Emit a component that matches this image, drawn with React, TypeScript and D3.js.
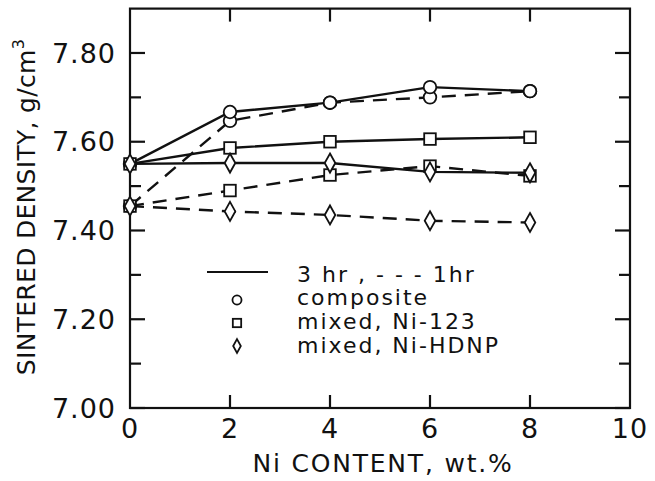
import React from "react";
import * as d3 from "d3";

const xs = [0, 2, 4, 6, 8];
const composite3 = [7.55, 7.667, 7.688, 7.723, 7.714];
const composite1 = [7.455, 7.647, 7.688, 7.70, 7.714];
const ni123_3 = [7.55, 7.586, 7.60, 7.606, 7.61];
const ni123_1 = [7.455, 7.49, 7.525, 7.545, 7.523];
const hdnp3 = [7.55, 7.552, 7.552, 7.532, 7.53];
const hdnp1 = [7.455, 7.443, 7.435, 7.422, 7.418];

const xTicks = [0, 2, 4, 6, 8, 10];
const yMajor = [7.0, 7.2, 7.4, 7.6, 7.8];
const yMinor = [7.1, 7.3, 7.5, 7.7];

const FONT = "'DejaVu Sans', sans-serif";

type Shape = "circle" | "square" | "diamond";

function Marker({ shape, x, y, s = 1 }: { shape: Shape; x: number; y: number; s?: number }) {
  const common = { fill: "white", stroke: "#111", strokeWidth: 1.8 };
  if (shape === "circle") return <circle cx={x} cy={y} r={6.3 * s} {...common} />;
  if (shape === "square") return <rect x={x - 5.8 * s} y={y - 5.8 * s} width={11.6 * s} height={11.6 * s} {...common} />;
  return (
    <path
      d={`M${x},${y - 9.5 * s}L${x + 5.3 * s},${y}L${x},${y + 9.5 * s}L${x - 5.3 * s},${y}Z`}
      {...common}
    />
  );
}

export default function App() {
  const W = 655, H = 481;
  const x = d3.scaleLinear().domain([0, 10]).range([130, 630]);
  const y = d3.scaleLinear().domain([7.0, 7.9]).range([408, 8.6]);
  const line = d3.line<number>().x((_, i) => x(xs[i])).y((d) => y(d));

  const series: { vals: number[]; dashed: boolean; shape: Shape }[] = [
    { vals: composite1, dashed: true, shape: "circle" },
    { vals: ni123_1, dashed: true, shape: "square" },
    { vals: hdnp1, dashed: true, shape: "diamond" },
    { vals: composite3, dashed: false, shape: "circle" },
    { vals: ni123_3, dashed: false, shape: "square" },
    { vals: hdnp3, dashed: false, shape: "diamond" },
  ];

  const [x0, x1] = x.range();
  const [y0, y1] = y.range();

  return (
    <svg width={W} height={H} style={{ position: "absolute", left: 0, top: 0, background: "white" }}>
      <g stroke="#111" strokeWidth={2.2} fill="none">
        <rect x={x0} y={y1} width={x1 - x0} height={y0 - y1} />
        {yMajor.map((v) => (
          <g key={"ma" + v}>
            <line x1={x0} x2={x0 + 15} y1={y(v)} y2={y(v)} />
            <line x1={x1} x2={x1 - 15} y1={y(v)} y2={y(v)} />
          </g>
        ))}
        {yMinor.map((v) => (
          <g key={"mi" + v}>
            <line x1={x0} x2={x0 + 11} y1={y(v)} y2={y(v)} />
            <line x1={x1} x2={x1 - 11} y1={y(v)} y2={y(v)} />
          </g>
        ))}
        {[2, 4, 6, 8].map((v) => (
          <g key={"xt" + v}>
            <line x1={x(v)} x2={x(v)} y1={y0} y2={y0 - 13} />
            <line x1={x(v)} x2={x(v)} y1={y1} y2={y1 + 13} />
          </g>
        ))}
      </g>
      <g fill="#111" fontFamily={FONT} fontSize={27} letterSpacing={1}>
        {yMajor.map((v) => (
          <text key={"yl" + v} x={x0 - 14} y={y(v)} dy="0.36em" textAnchor="end">
            {v.toFixed(2)}
          </text>
        ))}
        {xTicks.map((v) => (
          <text key={"xl" + v} x={x(v)} y={y0 + 30} textAnchor="middle">
            {v}
          </text>
        ))}
      </g>
      <g fill="#111" fontFamily={FONT}>
        <text x={383} y={472} textAnchor="middle" fontSize={25} letterSpacing={1.8}>
          Ni CONTENT, wt.%
        </text>
        <text transform={`translate(35,207) rotate(-90)`} textAnchor="middle" fontSize={25} letterSpacing={0.3}>
          SINTERED DENSITY, g/cm<tspan dy={-11} fontSize={16}>3</tspan>
        </text>
      </g>
      {series.map((s, i) => (
        <path
          key={"l" + i}
          d={line(s.vals) || ""}
          fill="none"
          stroke="#111"
          strokeWidth={2.4}
          strokeDasharray={s.dashed ? "14,9" : undefined}
        />
      ))}
      {series.map((s, i) =>
        s.vals.map((v, j) => <Marker key={`m${i}-${j}`} shape={s.shape} x={x(xs[j])} y={y(v)} />)
      )}
      <g fontFamily={FONT} fontSize={22} fill="#111" letterSpacing={2}>
        <line x1={207} x2={268} y1={272} y2={272} stroke="#111" strokeWidth={2.2} />
        <text x={297} y={282}>3 hr , - - - 1hr</text>
        <Marker shape="circle" x={237} y={300} s={0.72} />
        <text x={297} y={305}>composite</text>
        <Marker shape="square" x={237} y={323} s={0.72} />
        <text x={297} y={329}>mixed, Ni-123</text>
        <Marker shape="diamond" x={237} y={346} s={0.72} />
        <text x={297} y={353}>mixed, Ni-HDNP</text>
      </g>
    </svg>
  );
}
